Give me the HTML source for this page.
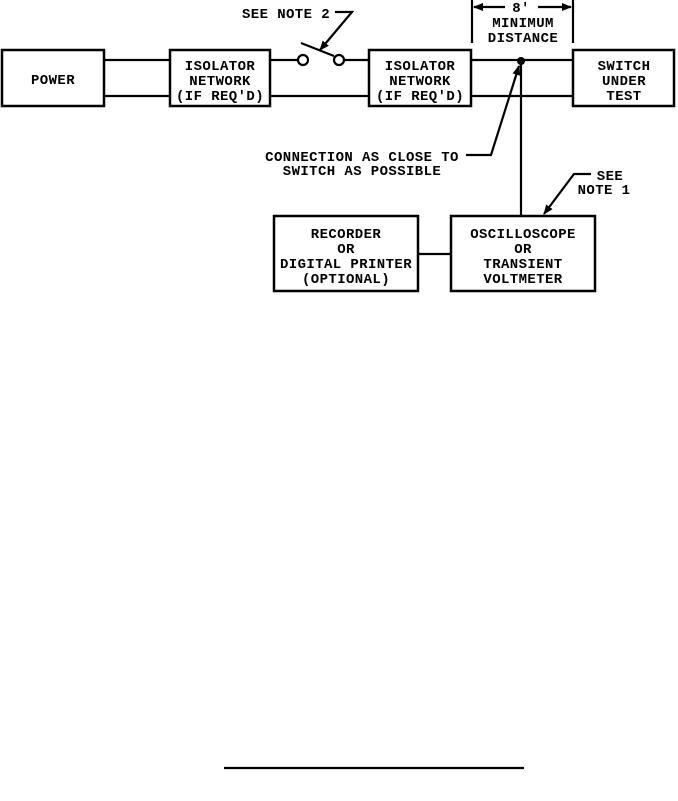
<!DOCTYPE html>
<html><head><style>
body{margin:0;background:#fff;}
svg text{font-family:"Liberation Mono",monospace;font-weight:bold;font-size:14px;letter-spacing:0.4px;text-anchor:middle;fill:#000;}
</style></head><body>
<svg width="678" height="796" viewBox="0 0 678 796" xmlns="http://www.w3.org/2000/svg">
<defs><marker id="a" markerWidth="10" markerHeight="8" refX="9" refY="4" orient="auto" markerUnits="userSpaceOnUse"><path d="M0,0L10,4L0,8z" fill="#000"/></marker></defs>
<g fill="none" stroke="#000" stroke-width="2.5">
<rect x="2" y="50" width="102" height="56"/>
<rect x="170" y="50" width="100" height="56"/>
<rect x="369" y="50" width="102" height="56"/>
<rect x="573" y="50" width="101" height="56"/>
<rect x="274" y="216" width="144" height="75"/>
<rect x="451" y="216" width="144" height="75"/>
</g>
<g fill="none" stroke="#000" stroke-width="2.2">
<line x1="104" y1="60" x2="170" y2="60"/>
<line x1="104" y1="96" x2="170" y2="96"/>
<line x1="270" y1="60" x2="298" y2="60"/>
<line x1="270" y1="96" x2="369" y2="96"/>
<circle cx="303" cy="60" r="5"/>
<circle cx="339" cy="60" r="5"/>
<line x1="344" y1="60" x2="369" y2="60"/>
<line x1="301" y1="43" x2="334" y2="56"/>
<line x1="471" y1="60" x2="573" y2="60"/>
<line x1="471" y1="96" x2="573" y2="96"/>
<line x1="521" y1="61" x2="521" y2="216"/>
<line x1="418" y1="254" x2="451" y2="254"/>
<line x1="472" y1="0" x2="472" y2="43"/>
<line x1="573" y1="0" x2="573" y2="43"/>
<line x1="505" y1="7" x2="474" y2="7" marker-end="url(#a)"/>
<line x1="538" y1="7" x2="571" y2="7" marker-end="url(#a)"/>
<polyline points="466,155 491,155 519,66" marker-end="url(#a)"/>
<polyline points="591,174 574,174 544,214" marker-end="url(#a)"/>
<polyline points="335,12 352,12 320,50" marker-end="url(#a)"/>
<line x1="224" y1="768" x2="524" y2="768"/>
</g>
<circle cx="521" cy="61" r="4" fill="#000"/>
<text x="521" y="12">8'</text>
<text x="523" y="27">MINIMUM</text>
<text x="523" y="42">DISTANCE</text>
<text x="286" y="18">SEE NOTE 2</text>
<text x="53" y="84">POWER</text>
<text x="220" y="70">ISOLATOR</text>
<text x="220" y="85">NETWORK</text>
<text x="220" y="100">(IF REQ'D)</text>
<text x="420" y="70">ISOLATOR</text>
<text x="420" y="85">NETWORK</text>
<text x="420" y="100">(IF REQ'D)</text>
<text x="624" y="70">SWITCH</text>
<text x="624" y="85">UNDER</text>
<text x="624" y="100">TEST</text>
<text x="362" y="161">CONNECTION AS CLOSE TO</text>
<text x="362" y="175">SWITCH AS POSSIBLE</text>
<text x="610" y="180">SEE</text>
<text x="604" y="194">NOTE 1</text>
<text x="346" y="238">RECORDER</text>
<text x="346" y="253">OR</text>
<text x="346" y="268">DIGITAL PRINTER</text>
<text x="346" y="283">(OPTIONAL)</text>
<text x="523" y="238">OSCILLOSCOPE</text>
<text x="523" y="253">OR</text>
<text x="523" y="268">TRANSIENT</text>
<text x="523" y="283">VOLTMETER</text>
</svg>
</body></html>
